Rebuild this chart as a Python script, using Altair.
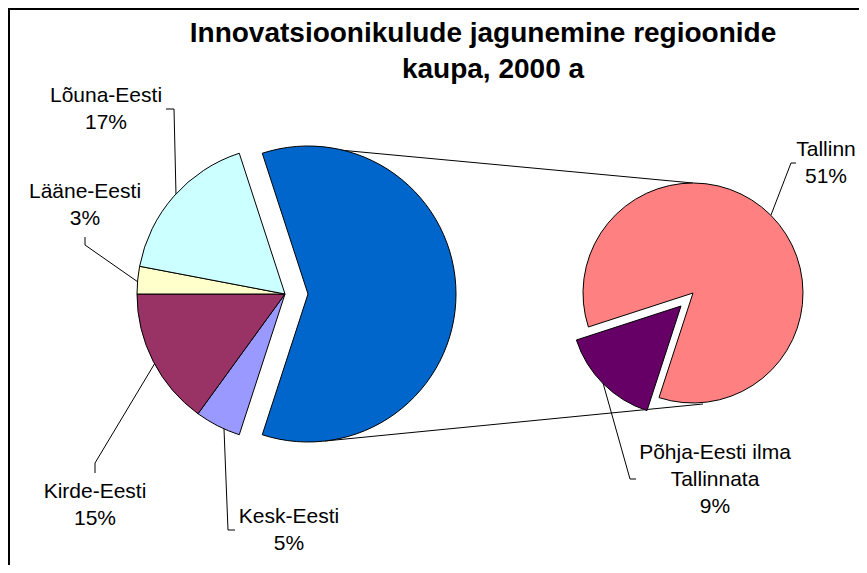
import math
import altair as alt
import pandas as pd

# ---------------- data ----------------
TITLE = ["Innovatsioonikulude jagunemine regioonide", "kaupa, 2000 a"]

left_categories = ["Kesk-Eesti", "Kirde-Eesti", "Lääne-Eesti", "Lõuna-Eesti"]
left_values = [5, 15, 3, 17]

right_categories = ["Põhja-Eesti ilma Tallinnata", "Tallinn"]
right_values = [9, 51]

other_name = "Põhja-Eesti"  # combined slice of the first pie (= sum of second pie)

# ---------------- styles / layout ----------------
COLORS = {
    "Kesk-Eesti": "#9999FF",
    "Kirde-Eesti": "#993366",
    "Lääne-Eesti": "#FFFFCC",
    "Lõuna-Eesti": "#CCFFFF",
    other_name: "#0066CC",
    "Põhja-Eesti ilma Tallinnata": "#660066",
    "Tallinn": "#FF8080",
}
FONT = "Liberation Sans"
W, H = 851, 557
START = math.radians(198)
theta_scale = alt.Scale(domain=[0, 100], range=[START, START + 2 * math.pi])
color_scale = alt.Scale(domain=list(COLORS.keys()), range=list(COLORS.values()))

LEFT_R, RIGHT_R = 148, 110
LEFT_C = (277, 286)
LEFT_EXPLODED_C = (300, 286)
RIGHT_C = (685, 285)
RIGHT_EXPLODED_C = (673, 298)

TITLE_POS = [(475, 34), (485, 70)]

LABEL_POS = {
    "Lõuna-Eesti": (98, 94),
    "Lääne-Eesti": (77, 190),
    "Kirde-Eesti": (87, 490),
    "Kesk-Eesti": (281, 515),
    "Tallinn": (818, 148),
    "Põhja-Eesti ilma Tallinnata": (707, 451),
}
LABEL_WRAP = {"Põhja-Eesti ilma Tallinnata": "Põhja-Eesti ilma\nTallinnata"}

LEADERS = {
    "Lõuna-Eesti": [(158, 101), (166, 101), (168, 187)],
    "Lääne-Eesti": [(77, 229), (77, 237), (130, 274)],
    "Kirde-Eesti": [(87, 465), (87, 455), (147, 355)],
    "Kesk-Eesti": [(227, 522), (220, 522), (216, 421)],
    "Tallinn": [(788, 155), (783, 155), (763, 207)],
    "Põhja-Eesti ilma Tallinnata": [(628, 471), (622, 471), (595, 375)],
    "conn_top": [(310, 140), (685, 175)],
    "conn_bottom": [(317, 433), (695, 396)],
}

# ---------------- tables ----------------
left_df = pd.DataFrame({
    "category": left_categories + [other_name],
    "value": left_values + [sum(right_values)],
    "order": list(range(len(left_categories) + 1)),
})
right_df = pd.DataFrame({
    "category": right_categories,
    "value": right_values,
    "order": list(range(len(right_categories))),
})

all_cats = left_categories + right_categories
all_vals = left_values + right_values
label_df = pd.DataFrame({
    "category": all_cats,
    "label": [LABEL_WRAP.get(c, c) + "\n" + f"{v}%" for c, v in zip(all_cats, all_vals)],
    "lx": [LABEL_POS[c][0] for c in all_cats],
    "ly": [LABEL_POS[c][1] for c in all_cats],
})

title_df = pd.DataFrame({
    "t": TITLE,
    "tx": [p[0] for p in TITLE_POS],
    "ty": [p[1] for p in TITLE_POS],
})

line_rows = []
for key, pts in LEADERS.items():
    for k, (px, py) in enumerate(pts):
        line_rows.append({"id": key, "k": k, "px": px, "py": py})
lines_df = pd.DataFrame(line_rows)


def pie_layer(base, cond, center, radius):
    return base.transform_filter(cond).mark_arc(
        radius=radius, stroke="black", strokeWidth=1
    ).encode(
        theta=alt.Theta("start:Q", scale=theta_scale, stack=False),
        theta2=alt.Theta2(field="cum"),
        color=alt.Color("category:N", scale=color_scale, legend=None),
        x=alt.value(center[0]),
        y=alt.value(center[1]),
    )


left_base = alt.Chart(left_df).transform_window(
    cum="sum(value)", sort=[alt.SortField("order")]
).transform_calculate(start="datum.cum - datum.value")

right_base = alt.Chart(right_df).transform_joinaggregate(
    total="sum(value)"
).transform_calculate(pct="datum.value / datum.total * 100").transform_window(
    cum="sum(pct)", sort=[alt.SortField("order")]
).transform_calculate(start="datum.cum - datum.pct")

left_pie = pie_layer(left_base, f"datum.category != '{other_name}'", LEFT_C, LEFT_R)
left_explode = pie_layer(left_base, f"datum.category == '{other_name}'", LEFT_EXPLODED_C, LEFT_R)
right_pie = pie_layer(right_base, "datum.category == 'Tallinn'", RIGHT_C, RIGHT_R)
right_explode = pie_layer(right_base, "datum.category != 'Tallinn'", RIGHT_EXPLODED_C, RIGHT_R)

lines = alt.Chart(lines_df).mark_line(color="black", strokeWidth=1).encode(
    x=alt.X("px:Q", scale=None),
    y=alt.Y("py:Q", scale=None),
    detail="id:N",
    order="k:Q",
)

labels = alt.Chart(label_df).mark_text(
    font=FONT, fontSize=21, align="center", baseline="alphabetic",
    lineBreak="\n", lineHeight=27, color="black"
).encode(
    x=alt.X("lx:Q", scale=None),
    y=alt.Y("ly:Q", scale=None),
    text="label:N",
)

title = alt.Chart(title_df).mark_text(
    font=FONT, fontSize=28, fontWeight="bold", align="center",
    baseline="alphabetic", color="black"
).encode(
    x=alt.X("tx:Q", scale=None),
    y=alt.Y("ty:Q", scale=None),
    text="t:N",
)

one = pd.DataFrame({"d": [0]})
border_top = alt.Chart(one).mark_rule(color="black", strokeWidth=2).encode(
    x=alt.value(0), x2=alt.value(W), y=alt.value(1)
)
border_left = alt.Chart(one).mark_rule(color="black", strokeWidth=2).encode(
    x=alt.value(1), y=alt.value(0), y2=alt.value(H)
)

chart = alt.layer(
    lines, left_pie, left_explode, right_pie, right_explode,
    labels, title, border_top, border_left
).properties(
    width=W, height=H, padding=0,
    autosize=alt.AutoSizeParams(type="none"),
    background="white",
).configure_view(strokeWidth=0)

chart.save("out.html", embed_options={"renderer": "svg", "actions": False})
